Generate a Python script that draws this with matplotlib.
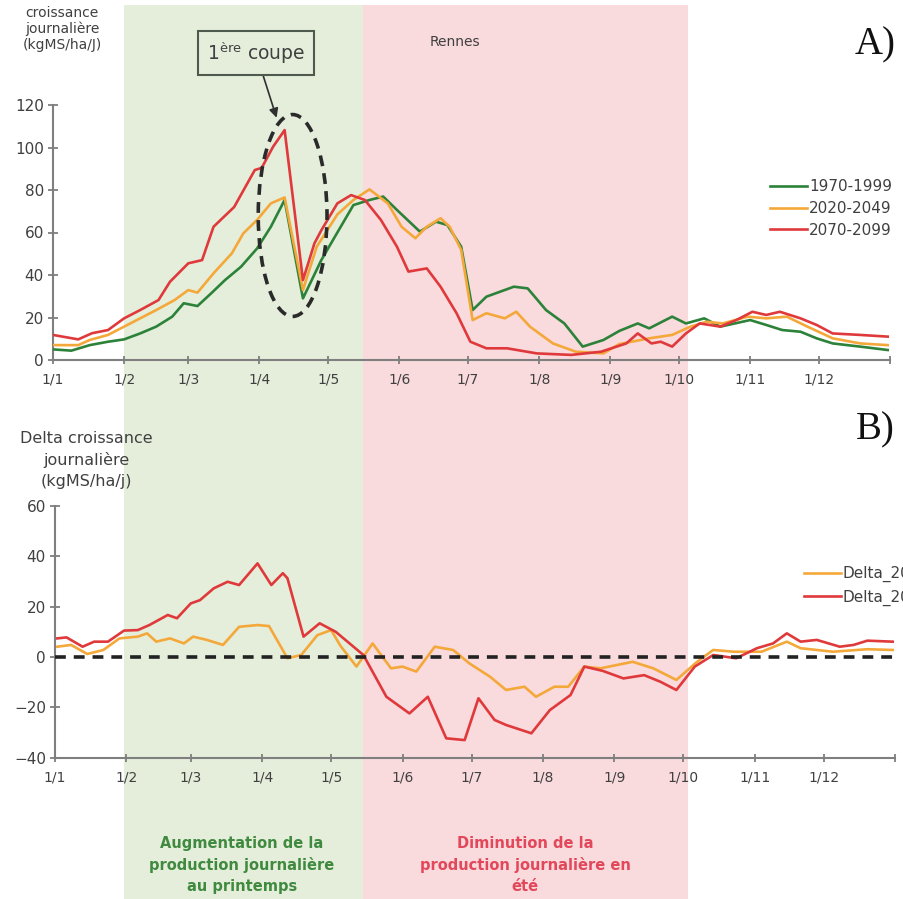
import matplotlib
matplotlib.use("Agg")
import numpy as np
import matplotlib.pyplot as plt
from matplotlib.patches import Rectangle, Ellipse

# --- données (jour de l'année, kgMS/ha/j) ---
jours_1970 = [0, 8, 16, 24, 31, 38, 45, 52, 57, 63, 69, 75, 82, 89, 95, 101, 109, 117, 124, 131,
              138, 144, 150, 160, 167, 172, 178, 183, 189, 201, 207, 215, 223, 231, 240, 247, 255, 260, 270, 276,
              284, 291, 304, 311, 318, 326, 333, 340, 352, 364]
crois_1970 = [5, 4.4, 7, 8.6, 9.7, 12.5, 15.7, 20.4, 26.7, 25.4, 31.4, 37.6, 43.9, 52.5, 62.7, 75.3, 29, 47, 60, 72.9,
              75.3, 76.9, 70.6, 60.4, 65.1, 63.5, 53.3, 23.5, 29.8, 34.5, 33.7, 23.5, 17.2, 6.3, 9.4, 13.7, 17.2, 14.9, 20.4, 17.2,
              19.6, 15.7, 18.8, 16.5, 14.1, 13.3, 10.2, 7.8, 6.3, 4.7]

jours_2020 = [0, 11, 16, 24, 31, 38, 45, 53, 59, 63, 70, 78, 83, 89, 95, 101, 109, 115, 124, 131,
              138, 146, 152, 158, 163, 169, 173, 178, 183, 189, 197, 202, 208, 218, 228, 240, 247, 260, 270, 278,
              285, 292, 303, 311, 320, 329, 340, 352, 364]
crois_2020 = [7, 7, 9.4, 11.8, 15.7, 19.6, 23.5, 28.2, 32.9, 31.7, 40.8, 50.2, 59.6, 65.9, 73.7, 76.5, 32.9, 53.3, 68.5, 75.3,
              80.3, 73.7, 62.7, 57.3, 62.7, 66.7, 62.7, 51.8, 18.8, 22, 19.6, 22.7, 15.7, 7.8, 3.9, 3.1, 7.5, 10.2, 11.8, 15.7,
              18, 17.2, 20.4, 19.6, 20.4, 15.7, 10.2, 7.8, 7]

jours_2070 = [0, 11, 17, 24, 31, 38, 46, 51, 59, 65, 70, 79, 88, 91, 96, 101, 109, 114, 117, 124,
              130, 136, 143, 150, 155, 163, 169, 176, 182, 189, 198, 211, 226, 239, 250, 255, 261, 265, 270, 276,
              282, 291, 298, 305, 311, 317, 326, 333, 340, 352, 364]
crois_2070 = [11.8, 9.7, 12.6, 14.1, 19.6, 23.5, 28.2, 36.8, 45.5, 47, 62.7, 72, 89.4, 90.4, 100.4, 108.2, 37.6, 54.9, 61, 73.7,
              77.6, 75.3, 65.9, 53.3, 41.6, 43.1, 34.5, 22, 8.6, 5.5, 5.5, 3.1, 2.4, 3.9, 7.8, 12.5, 7.8, 8.6, 6.3, 12.5,
              17.2, 15.7, 18.8, 22.7, 21.2, 22.7, 19.6, 16.5, 12.5, 11.8, 11]

jours_delta_2020 = [1, 7, 14, 21, 28, 36, 40, 44, 50, 56, 60, 66, 73, 80, 88, 93, 101, 107, 114, 120,
                    124, 131, 138, 146, 151, 157, 165, 173, 180, 189, 196, 204, 209, 217, 223, 230, 237, 251, 260, 270,
                    279, 286, 295, 307, 318, 324, 338, 353, 364]
delta_2020 = [4.1, 4.8, 1.2, 2.8, 7.4, 8.1, 9.4, 6.1, 7.4, 5.4, 8.1, 6.8, 4.8, 12, 12.7, 12.3, -0.5, 0.8, 8.7, 10.7,
              4.5, -3.8, 5.4, -4.5, -3.8, -5.8, 4.1, 2.8, -2.5, -7.8, -13.1, -11.8, -15.8, -11.8, -11.8, -3.8, -4.5, -1.9, -4.5, -9.1,
              -1.9, 2.8, 2.1, 2.1, 6.1, 3.5, 2.1, 3.1, 2.8]

jours_delta_2070 = [1, 5, 12, 17, 23, 30, 36, 41, 49, 53, 59, 63, 69, 75, 80, 88, 94, 99, 101, 108,
                    115, 122, 134, 144, 154, 162, 170, 178, 184, 191, 196, 207, 215, 224, 230, 238, 247, 256, 263, 270,
                    278, 286, 296, 305, 312, 318, 324, 331, 341, 347, 353, 364]
delta_2070 = [7.4, 7.8, 4.1, 6.1, 6.1, 10.5, 10.7, 12.7, 16.7, 15.4, 21.3, 22.6, 27.3, 29.9, 28.6, 37.2, 28.6, 33.3, 31.3, 8.1,
              13.4, 10, 0.8, -15.8, -22.4, -15.8, -32.3, -33, -16.4, -25, -27, -30.3, -21.1, -15.1, -3.8, -5.5, -8.5, -7.2, -9.8, -13.1,
              -3.8, 0.8, -0.5, 3.5, 5.4, 9.4, 6.1, 6.8, 4.1, 4.8, 6.5, 6.1]

debut_mois = [0, 31, 59, 90, 120, 151, 181, 212, 243, 273, 304, 334]
etiquettes_mois = ["1/1", "1/2", "1/3", "1/4", "1/5", "1/6", "1/7", "1/8", "1/9", "1/10", "1/11", "1/12"]
# limites des périodes colorées (jours) : printemps / été
periodes = [31, 135, 277]

vert = "#2c8239"
orange = "#f5a83a"
rouge = "#e0393b"
gris = "#404040"

fig = plt.figure(figsize=(9.04, 8.99), dpi=100)
W, H = 904, 899

ax1 = fig.add_axes([53 / W, 1 - 360 / H, 837 / W, 255 / H])
ax2 = fig.add_axes([55 / W, 1 - 757.7 / H, 840 / W, 251.7 / H])

for ax in (ax1, ax2):
    ax.set_facecolor("none")
    ax.set_xlim(0, 365)
    for s in ("top", "right"):
        ax.spines[s].set_visible(False)
    for s in ("left", "bottom"):
        ax.spines[s].set_color("#7f7f7f")
        ax.spines[s].set_linewidth(1.5)
    ax.set_xticks(debut_mois)
    ax.set_xticklabels(etiquettes_mois)
    ax.set_xticks([365], minor=True)
    ax.tick_params(axis="x", which="both", direction="inout", length=6, width=1.3,
                   color="#7f7f7f", labelsize=10, labelcolor=gris, pad=6)
    ax.tick_params(axis="y", direction="inout", length=7, width=1.3,
                   color="#7f7f7f", labelsize=11, labelcolor=gris, pad=3)

# bandes de fond (printemps / été) sur toute la hauteur
x_px = [ax1.transData.transform((d, 0))[0] / W for d in periodes]
fig.patches.append(Rectangle((x_px[0], 0), x_px[1] - x_px[0], 1 - 5 / H, transform=fig.transFigure,
                             facecolor="#e5eedb", edgecolor="none", zorder=-10))
fig.patches.append(Rectangle((x_px[1], 0), x_px[2] - x_px[1], 1 - 5 / H, transform=fig.transFigure,
                             facecolor="#f9dadd", edgecolor="none", zorder=-10))

# --- A) croissance journalière ---
ax1.plot(jours_1970, crois_1970, color=vert, lw=1.9, label="1970-1999", zorder=3)
ax1.plot(jours_2020, crois_2020, color=orange, lw=1.9, label="2020-2049", zorder=3)
ax1.plot(jours_2070, crois_2070, color=rouge, lw=1.9, label="2070-2099", zorder=3)
ax1.set_ylim(0, 120)
ax1.set_yticks(range(0, 121, 20))

ax1.add_patch(Ellipse((104.5, 68), 30, 95, fill=False, edgecolor="#2a2a2a", lw=2.6,
                      ls=(0, (3, 2)), zorder=4, clip_on=False))
ax1.annotate(r"1$^{\mathrm{ère}}$ coupe", xy=(97.5, 114), xytext=(88.5, 144.5),
             textcoords="data", annotation_clip=False, ha="center", va="center",
             fontsize=13.5, color=gris,
             bbox=dict(boxstyle="square,pad=0.45", facecolor="none", edgecolor="#4d5a4d", lw=1.5),
             arrowprops=dict(arrowstyle="-|>,head_length=0.4,head_width=0.2", color="#303030", lw=1.2,
                             shrinkA=0, shrinkB=0))

ax1.legend(loc="upper left", bbox_to_anchor=(770 / W, 1 - 179 / H), bbox_transform=fig.transFigure,
           frameon=False, fontsize=11, handlelength=2.4, handletextpad=0.15, labelspacing=0.45,
           borderpad=0, borderaxespad=0, labelcolor=gris)

# --- B) delta ---
ax2.plot(jours_delta_2020, delta_2020, color=orange, lw=1.9, label="Delta_2020-2049", zorder=3)
ax2.plot(jours_delta_2070, delta_2070, color=rouge, lw=1.9, label="Delta_2070-2099", zorder=3)
ax2.axhline(0, color="#222222", lw=2.6, ls=(0, (3, 2.2)), zorder=4)
ax2.set_ylim(-40, 60)
ax2.set_yticks(range(-40, 61, 20))

ax2.legend(loc="upper left", bbox_to_anchor=(804 / W, 1 - 566 / H), bbox_transform=fig.transFigure,
           frameon=False, fontsize=11, handlelength=2.4, handletextpad=0.15, labelspacing=0.5,
           borderpad=0, borderaxespad=0, labelcolor=gris)

# --- textes ---
fig.text(62 / W, 1 - 29 / H, "croissance\njournalière\n(kgMS/ha/J)", ha="center", va="center",
         fontsize=10, color=gris, linespacing=1.15)
fig.text(86 / W, 1 - 460 / H, "Delta croissance\njournalière\n(kgMS/ha/j)", ha="center", va="center",
         fontsize=11.5, color=gris, linespacing=1.45)
fig.text(455 / W, 1 - 42 / H, "Rennes", ha="center", va="center", fontsize=10, color=gris)
fig.text(875 / W, 1 - 45 / H, "A)", ha="center", va="center", fontsize=28,
         family="Liberation Serif", color="#111111")
fig.text(875 / W, 1 - 430 / H, "B)", ha="center", va="center", fontsize=28,
         family="Liberation Serif", color="#111111")
fig.text(242 / W, 1 - 865 / H, "Augmentation de la\nproduction journalière\nau printemps",
         ha="center", va="center", fontsize=10.5, fontweight="bold", color="#3f8a3f", linespacing=1.45)
fig.text(525 / W, 1 - 865 / H, "Diminution de la\nproduction journalière en\nété",
         ha="center", va="center", fontsize=10.5, fontweight="bold", color="#e2475a", linespacing=1.45)

fig.savefig("out.png", dpi=100)
